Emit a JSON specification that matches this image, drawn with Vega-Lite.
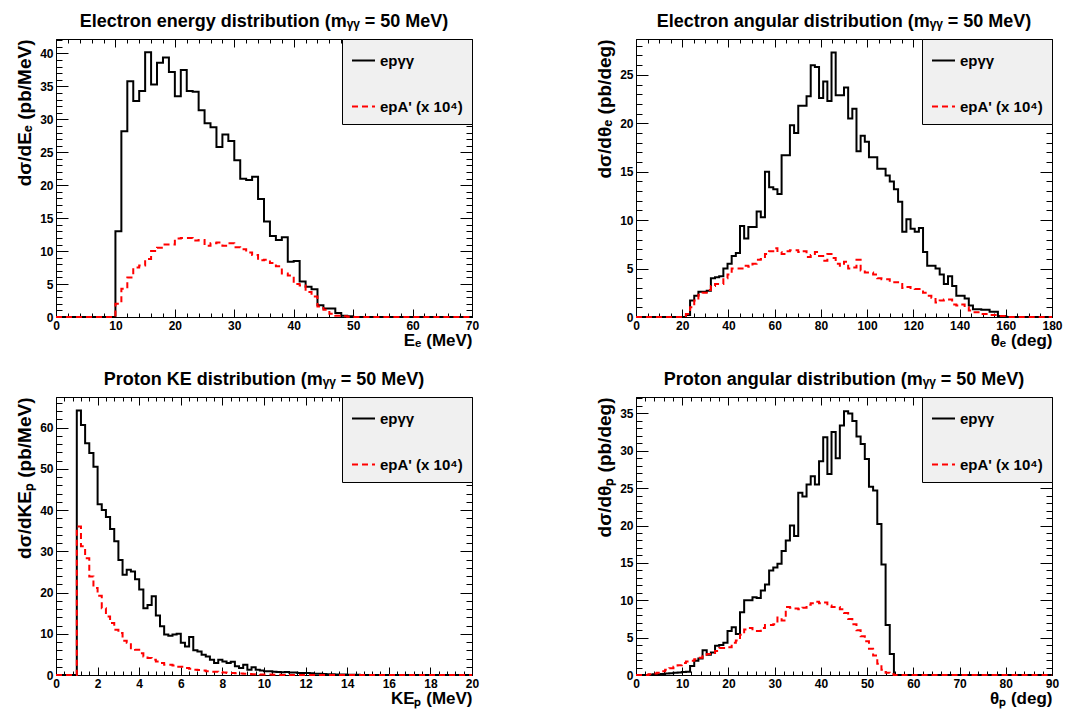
{
  "$schema": "https://vega.github.io/schema/vega-lite/v6.json",
  "background": "white",
  "padding": {"left": 15, "top": 12, "right": 5, "bottom": 5},
  "columns": 2,
  "spacing": {"row": 80, "column": 164},
  "bounds": "flush",
  "resolve": {"scale": {"color": "independent", "strokeDash": "independent"}},
  "concat": [
    {
      "title": "Electron energy distribution (mᵧᵧ = 50 MeV)",
      "width": 416, "height": 278,
      "data": {"values": [
        {"x":0,"g":0,"a":0},{"x":10,"g":13.0,"a":2.0},{"x":11,"g":28.2,"a":4.3},{"x":12,"g":35.8,"a":6.0},{"x":13,"g":32.8,"a":7.5},{"x":14,"g":34.3,"a":7.8},{"x":15,"g":40.2,"a":8.8},{"x":16,"g":35.3,"a":10.0},{"x":17,"g":38.6,"a":10.5},{"x":18,"g":39.4,"a":11.0},{"x":19,"g":37.2,"a":11.0},{"x":20,"g":33.5,"a":11.9},{"x":21,"g":37.5,"a":12.0},{"x":22,"g":34.3,"a":12.0},{"x":23,"g":34.2,"a":11.6},{"x":24,"g":31.4,"a":11.7},{"x":25,"g":29.4,"a":10.8},{"x":26,"g":28.8,"a":11.2},{"x":27,"g":25.8,"a":11.3},{"x":28,"g":27.7,"a":10.8},{"x":29,"g":26.7,"a":11.2},{"x":30,"g":23.8,"a":10.6},{"x":31,"g":21.0,"a":10.3},{"x":32,"g":20.8,"a":9.8},{"x":33,"g":21.3,"a":9.4},{"x":34,"g":17.9,"a":8.6},{"x":35,"g":14.5,"a":8.7},{"x":36,"g":12.3,"a":8.2},{"x":37,"g":11.7,"a":7.7},{"x":38,"g":12.1,"a":6.6},{"x":39,"g":8.4,"a":6.3},{"x":40,"g":8.5,"a":5.0},{"x":41,"g":5.4,"a":4.8},{"x":42,"g":4.6,"a":3.8},{"x":43,"g":4.2,"a":3.1},{"x":44,"g":1.8,"a":1.6},{"x":45,"g":1.3,"a":1.1},{"x":46,"g":1.3,"a":0.5},{"x":47,"g":0.6,"a":0.2},{"x":48,"g":0.2,"a":0.1},{"x":49,"g":0.1,"a":0.05},{"x":50,"g":0,"a":0},{"x":70,"g":0,"a":0}
      ]},
      "resolve": {"scale": {"x": "independent", "y": "independent"}, "axis": {"x": "independent", "y": "independent"}},
      "layer": [
        {
          "transform": [{"fold": ["g", "a"], "as": ["key", "v"]}],
          "mark": {"type": "line", "interpolate": "step-after", "strokeWidth": 2},
          "encoding": {
            "x": {"field": "x", "type": "quantitative", "scale": {"domain": [0, 70], "nice": false, "zero": false}, "axis": {"orient": "bottom", "ticks": false, "values": [0,10,20,30,40,50,60,70], "title": "Eₑ (MeV)"}},
            "y": {"field": "v", "type": "quantitative", "scale": {"domain": [0, 42.2], "nice": false}, "axis": {"orient": "left", "ticks": false, "values": [0,5,10,15,20,25,30,35,40], "title": "dσ/dEₑ (pb/MeV)"}},
            "color": {"field": "key", "type": "nominal", "scale": {"domain": ["g", "a"], "range": ["#000000", "#ff0000"]}, "legend": {"title": null, "labelExpr": "datum.value == 'g' ? 'epγγ' : \"epA' (x 10⁴)\""}},
            "strokeDash": {"field": "key", "type": "nominal", "scale": {"domain": ["g", "a"], "range": [[1, 0], [6, 4]]}, "legend": {"title": null, "labelExpr": "datum.value == 'g' ? 'epγγ' : \"epA' (x 10⁴)\""}}
          }
        },
        {
          "mark": {"type": "line", "strokeOpacity": 0},
          "encoding": {
            "x": {"field": "x", "type": "quantitative", "scale": {"domain": [0, 70], "nice": false, "zero": false}, "axis": {"orient": "bottom", "labels": false, "title": null, "tickSize": -8, "values": [0,10,20,30,40,50,60,70]}},
            "y": {"field": "g", "type": "quantitative", "scale": {"domain": [0, 42.2], "nice": false}, "axis": {"orient": "left", "labels": false, "title": null, "tickSize": -12, "values": [0,5,10,15,20,25,30,35,40]}}
          }
        },
        {
          "mark": {"type": "line", "strokeOpacity": 0},
          "encoding": {
            "x": {"field": "x", "type": "quantitative", "scale": {"domain": [0, 70], "nice": false, "zero": false}, "axis": {"orient": "bottom", "labels": false, "title": null, "tickSize": -4, "values": [0,2,4,6,8,10,12,14,16,18,20,22,24,26,28,30,32,34,36,38,40,42,44,46,48,50,52,54,56,58,60,62,64,66,68,70]}},
            "y": {"field": "g", "type": "quantitative", "scale": {"domain": [0, 42.2], "nice": false}, "axis": {"orient": "left", "labels": false, "title": null, "tickSize": -6, "values": [0,1,2,3,4,5,6,7,8,9,10,11,12,13,14,15,16,17,18,19,20,21,22,23,24,25,26,27,28,29,30,31,32,33,34,35,36,37,38,39,40,41,42]}}
          }
        },
        {
          "mark": {"type": "line", "strokeOpacity": 0},
          "encoding": {
            "x": {"field": "x", "type": "quantitative", "scale": {"domain": [0, 70], "nice": false, "zero": false}, "axis": {"orient": "top", "labels": false, "title": null, "tickSize": -8, "values": [0,10,20,30,40,50,60,70]}},
            "y": {"field": "g", "type": "quantitative", "scale": {"domain": [0, 42.2], "nice": false}, "axis": {"orient": "right", "labels": false, "title": null, "tickSize": -12, "values": [0,5,10,15,20,25,30,35,40]}}
          }
        },
        {
          "mark": {"type": "line", "strokeOpacity": 0},
          "encoding": {
            "x": {"field": "x", "type": "quantitative", "scale": {"domain": [0, 70], "nice": false, "zero": false}, "axis": {"orient": "top", "labels": false, "title": null, "tickSize": -4, "values": [0,2,4,6,8,10,12,14,16,18,20,22,24,26,28,30,32,34,36,38,40,42,44,46,48,50,52,54,56,58,60,62,64,66,68,70]}},
            "y": {"field": "g", "type": "quantitative", "scale": {"domain": [0, 42.2], "nice": false}, "axis": {"orient": "right", "labels": false, "title": null, "tickSize": -6, "values": [0,1,2,3,4,5,6,7,8,9,10,11,12,13,14,15,16,17,18,19,20,21,22,23,24,25,26,27,28,29,30,31,32,33,34,35,36,37,38,39,40,41,42]}}
          }
        }
      ]
    },
    {
      "title": "Electron angular distribution (mᵧᵧ = 50 MeV)",
      "width": 416, "height": 278,
      "data": {"values": [
        {"x":0,"g":0,"a":0},{"x":21.6,"g":0.2,"a":0.3},{"x":23.4,"g":1.7,"a":1.0},{"x":25.2,"g":2.2,"a":1.7},{"x":27,"g":2.6,"a":2.3},{"x":28.8,"g":2.6,"a":2.5},{"x":30.6,"g":2.7,"a":2.8},{"x":32.4,"g":4.0,"a":3.2},{"x":34.2,"g":4.1,"a":3.4},{"x":36,"g":4.2,"a":3.4},{"x":37.8,"g":5.0,"a":4.0},{"x":39.6,"g":5.5,"a":4.4},{"x":41.4,"g":6.3,"a":5.0},{"x":43.2,"g":6.6,"a":5.0},{"x":45,"g":9.4,"a":5.0},{"x":46.8,"g":8.1,"a":5.3},{"x":48.6,"g":9.3,"a":5.2},{"x":50.4,"g":9.3,"a":5.5},{"x":52.2,"g":10.9,"a":5.9},{"x":54,"g":10.3,"a":6.0},{"x":55.8,"g":15.0,"a":6.5},{"x":57.6,"g":13.4,"a":6.8},{"x":59.4,"g":13.2,"a":7.1},{"x":61.2,"g":12.7,"a":6.7},{"x":63,"g":16.7,"a":6.5},{"x":64.8,"g":16.7,"a":6.8},{"x":66.6,"g":19.8,"a":6.9},{"x":68.4,"g":19.0,"a":6.9},{"x":70.2,"g":21.8,"a":6.7},{"x":72,"g":21.8,"a":6.8},{"x":73.8,"g":22.8,"a":6.2},{"x":75.6,"g":26.0,"a":6.4},{"x":77.4,"g":25.8,"a":6.7},{"x":79.2,"g":22.6,"a":6.3},{"x":81,"g":24.3,"a":5.8},{"x":82.8,"g":22.3,"a":6.5},{"x":84.6,"g":27.3,"a":6.1},{"x":86.4,"g":22.9,"a":5.5},{"x":88.2,"g":22.9,"a":5.3},{"x":90,"g":23.7,"a":5.7},{"x":91.8,"g":20.5,"a":5.0},{"x":93.6,"g":21.5,"a":5.1},{"x":95.4,"g":17.1,"a":5.9},{"x":97.2,"g":18.7,"a":4.8},{"x":99,"g":18.1,"a":4.6},{"x":100.8,"g":16.5,"a":4.6},{"x":102.6,"g":16.5,"a":4.4},{"x":104.4,"g":15.3,"a":4.0},{"x":106.2,"g":15.3,"a":3.9},{"x":108,"g":14.6,"a":3.9},{"x":109.8,"g":14.0,"a":3.6},{"x":111.6,"g":13.2,"a":3.6},{"x":113.4,"g":11.9,"a":3.4},{"x":115.2,"g":8.8,"a":3.0},{"x":117,"g":10.1,"a":3.1},{"x":118.8,"g":9.1,"a":3.0},{"x":120.6,"g":8.8,"a":2.9},{"x":122.4,"g":9.2,"a":2.9},{"x":124.2,"g":6.7,"a":2.5},{"x":126,"g":5.3,"a":2.2},{"x":127.8,"g":5.3,"a":2.0},{"x":129.6,"g":5.0,"a":1.5},{"x":131.4,"g":4.4,"a":1.7},{"x":133.2,"g":3.4,"a":1.8},{"x":135,"g":4.2,"a":1.8},{"x":136.8,"g":3.2,"a":1.3},{"x":138.6,"g":2.2,"a":1.2},{"x":140.4,"g":2.2,"a":1.3},{"x":142.2,"g":1.9,"a":1.0},{"x":144,"g":1.2,"a":0.66},{"x":145.8,"g":0.8,"a":0.5},{"x":147.6,"g":0.8,"a":0.5},{"x":149.4,"g":0.75,"a":0.3},{"x":151.2,"g":0.75,"a":0.3},{"x":153,"g":0.55,"a":0.2},{"x":154.8,"g":0.55,"a":0.2},{"x":156.6,"g":0.1,"a":0.1},{"x":158.4,"g":0.1,"a":0.1},{"x":160.2,"g":0,"a":0},{"x":180,"g":0,"a":0}
      ]},
      "resolve": {"scale": {"x": "independent", "y": "independent"}, "axis": {"x": "independent", "y": "independent"}},
      "layer": [
        {
          "transform": [{"fold": ["g", "a"], "as": ["key", "v"]}],
          "mark": {"type": "line", "interpolate": "step-after", "strokeWidth": 2},
          "encoding": {
            "x": {"field": "x", "type": "quantitative", "scale": {"domain": [0, 180], "nice": false, "zero": false}, "axis": {"orient": "bottom", "ticks": false, "values": [0,20,40,60,80,100,120,140,160,180], "title": "θₑ (deg)"}},
            "y": {"field": "v", "type": "quantitative", "scale": {"domain": [0, 28.7], "nice": false}, "axis": {"orient": "left", "ticks": false, "values": [0,5,10,15,20,25], "title": "dσ/dθₑ (pb/deg)"}},
            "color": {"field": "key", "type": "nominal", "scale": {"domain": ["g", "a"], "range": ["#000000", "#ff0000"]}, "legend": {"title": null, "labelExpr": "datum.value == 'g' ? 'epγγ' : \"epA' (x 10⁴)\""}},
            "strokeDash": {"field": "key", "type": "nominal", "scale": {"domain": ["g", "a"], "range": [[1, 0], [6, 4]]}, "legend": {"title": null, "labelExpr": "datum.value == 'g' ? 'epγγ' : \"epA' (x 10⁴)\""}}
          }
        },
        {
          "mark": {"type": "line", "strokeOpacity": 0},
          "encoding": {
            "x": {"field": "x", "type": "quantitative", "scale": {"domain": [0, 180], "nice": false, "zero": false}, "axis": {"orient": "bottom", "labels": false, "title": null, "tickSize": -8, "values": [0,20,40,60,80,100,120,140,160,180]}},
            "y": {"field": "g", "type": "quantitative", "scale": {"domain": [0, 28.7], "nice": false}, "axis": {"orient": "left", "labels": false, "title": null, "tickSize": -12, "values": [0,5,10,15,20,25]}}
          }
        },
        {
          "mark": {"type": "line", "strokeOpacity": 0},
          "encoding": {
            "x": {"field": "x", "type": "quantitative", "scale": {"domain": [0, 180], "nice": false, "zero": false}, "axis": {"orient": "bottom", "labels": false, "title": null, "tickSize": -4, "values": [0,5,10,15,20,25,30,35,40,45,50,55,60,65,70,75,80,85,90,95,100,105,110,115,120,125,130,135,140,145,150,155,160,165,170,175,180]}},
            "y": {"field": "g", "type": "quantitative", "scale": {"domain": [0, 28.7], "nice": false}, "axis": {"orient": "left", "labels": false, "title": null, "tickSize": -6, "values": [0,1,2,3,4,5,6,7,8,9,10,11,12,13,14,15,16,17,18,19,20,21,22,23,24,25,26,27,28]}}
          }
        },
        {
          "mark": {"type": "line", "strokeOpacity": 0},
          "encoding": {
            "x": {"field": "x", "type": "quantitative", "scale": {"domain": [0, 180], "nice": false, "zero": false}, "axis": {"orient": "top", "labels": false, "title": null, "tickSize": -8, "values": [0,20,40,60,80,100,120,140,160,180]}},
            "y": {"field": "g", "type": "quantitative", "scale": {"domain": [0, 28.7], "nice": false}, "axis": {"orient": "right", "labels": false, "title": null, "tickSize": -12, "values": [0,5,10,15,20,25]}}
          }
        },
        {
          "mark": {"type": "line", "strokeOpacity": 0},
          "encoding": {
            "x": {"field": "x", "type": "quantitative", "scale": {"domain": [0, 180], "nice": false, "zero": false}, "axis": {"orient": "top", "labels": false, "title": null, "tickSize": -4, "values": [0,5,10,15,20,25,30,35,40,45,50,55,60,65,70,75,80,85,90,95,100,105,110,115,120,125,130,135,140,145,150,155,160,165,170,175,180]}},
            "y": {"field": "g", "type": "quantitative", "scale": {"domain": [0, 28.7], "nice": false}, "axis": {"orient": "right", "labels": false, "title": null, "tickSize": -6, "values": [0,1,2,3,4,5,6,7,8,9,10,11,12,13,14,15,16,17,18,19,20,21,22,23,24,25,26,27,28]}}
          }
        }
      ]
    },
    {
      "title": "Proton KE distribution (mᵧᵧ = 50 MeV)",
      "width": 416, "height": 278,
      "data": {"values": [
        {"x":0,"g":0,"a":0},{"x":1.0,"g":64.1,"a":36.0},{"x":1.2,"g":60.6,"a":31.2},{"x":1.4,"g":56.2,"a":28.3},{"x":1.6,"g":53.8,"a":23.9},{"x":1.8,"g":50.5,"a":21.1},{"x":2.0,"g":41.4,"a":19.2},{"x":2.2,"g":40.0,"a":16.2},{"x":2.4,"g":38.3,"a":14.2},{"x":2.6,"g":35.4,"a":12.6},{"x":2.8,"g":32.4,"a":11.0},{"x":3.0,"g":27.9,"a":10.2},{"x":3.2,"g":24.3,"a":8.3},{"x":3.4,"g":25.5,"a":7.8},{"x":3.6,"g":25.1,"a":6.5},{"x":3.8,"g":23.2,"a":6.1},{"x":4.0,"g":20.7,"a":5.3},{"x":4.2,"g":16.2,"a":4.5},{"x":4.4,"g":17.0,"a":4.1},{"x":4.6,"g":19.1,"a":3.7},{"x":4.8,"g":14.4,"a":3.3},{"x":5.0,"g":11.8,"a":2.9},{"x":5.2,"g":9.8,"a":2.5},{"x":5.4,"g":9.5,"a":2.5},{"x":5.6,"g":9.8,"a":2.3},{"x":5.8,"g":10.0,"a":2.0},{"x":6.0,"g":7.8,"a":2.0},{"x":6.2,"g":6.9,"a":1.7},{"x":6.4,"g":9.2,"a":1.5},{"x":6.6,"g":6.0,"a":1.3},{"x":6.8,"g":5.7,"a":1.2},{"x":7.0,"g":4.9,"a":1.1},{"x":7.2,"g":4.5,"a":0.9},{"x":7.4,"g":3.7,"a":0.8},{"x":7.6,"g":2.9,"a":0.8},{"x":7.8,"g":3.7,"a":0.7},{"x":8.0,"g":3.3,"a":0.6},{"x":8.2,"g":2.9,"a":0.5},{"x":8.4,"g":3.2,"a":0.5},{"x":8.6,"g":2.1,"a":0.4},{"x":8.8,"g":1.7,"a":0.35},{"x":9.0,"g":2.5,"a":0.3},{"x":9.2,"g":1.3,"a":0.25},{"x":9.4,"g":1.9,"a":0.2},{"x":9.6,"g":1.3,"a":0.2},{"x":9.8,"g":1.1,"a":0.15},{"x":10.0,"g":0.9,"a":0.1},{"x":10.2,"g":0.9,"a":0.1},{"x":10.4,"g":0.8,"a":0.08},{"x":10.6,"g":0.7,"a":0.05},{"x":10.8,"g":0.65,"a":0.03},{"x":11.0,"g":0.7,"a":0},{"x":11.2,"g":0.6,"a":0},{"x":11.4,"g":0.6,"a":0},{"x":11.6,"g":0.5,"a":0},{"x":11.8,"g":0.5,"a":0},{"x":12.0,"g":0.5,"a":0},{"x":12.2,"g":0.4,"a":0},{"x":12.4,"g":0.3,"a":0},{"x":12.6,"g":0.3,"a":0},{"x":12.8,"g":0.25,"a":0},{"x":13.0,"g":0.2,"a":0},{"x":13.2,"g":0.2,"a":0},{"x":13.4,"g":0.15,"a":0},{"x":13.6,"g":0.1,"a":0},{"x":13.8,"g":0.1,"a":0},{"x":14.0,"g":0.08,"a":0},{"x":14.2,"g":0.05,"a":0},{"x":14.4,"g":0.05,"a":0},{"x":14.6,"g":0.03,"a":0},{"x":14.8,"g":0,"a":0},{"x":20,"g":0,"a":0}
      ]},
      "resolve": {"scale": {"x": "independent", "y": "independent"}, "axis": {"x": "independent", "y": "independent"}},
      "layer": [
        {
          "transform": [{"fold": ["g", "a"], "as": ["key", "v"]}],
          "mark": {"type": "line", "interpolate": "step-after", "strokeWidth": 2},
          "encoding": {
            "x": {"field": "x", "type": "quantitative", "scale": {"domain": [0, 20], "nice": false, "zero": false}, "axis": {"orient": "bottom", "ticks": false, "values": [0,2,4,6,8,10,12,14,16,18,20], "title": "KEₚ (MeV)"}},
            "y": {"field": "v", "type": "quantitative", "scale": {"domain": [0, 67.4], "nice": false}, "axis": {"orient": "left", "ticks": false, "values": [0,10,20,30,40,50,60], "title": "dσ/dKEₚ (pb/MeV)"}},
            "color": {"field": "key", "type": "nominal", "scale": {"domain": ["g", "a"], "range": ["#000000", "#ff0000"]}, "legend": {"title": null, "labelExpr": "datum.value == 'g' ? 'epγγ' : \"epA' (x 10⁴)\""}},
            "strokeDash": {"field": "key", "type": "nominal", "scale": {"domain": ["g", "a"], "range": [[1, 0], [6, 4]]}, "legend": {"title": null, "labelExpr": "datum.value == 'g' ? 'epγγ' : \"epA' (x 10⁴)\""}}
          }
        },
        {
          "mark": {"type": "line", "strokeOpacity": 0},
          "encoding": {
            "x": {"field": "x", "type": "quantitative", "scale": {"domain": [0, 20], "nice": false, "zero": false}, "axis": {"orient": "bottom", "labels": false, "title": null, "tickSize": -8, "values": [0,2,4,6,8,10,12,14,16,18,20]}},
            "y": {"field": "g", "type": "quantitative", "scale": {"domain": [0, 67.4], "nice": false}, "axis": {"orient": "left", "labels": false, "title": null, "tickSize": -12, "values": [0,10,20,30,40,50,60]}}
          }
        },
        {
          "mark": {"type": "line", "strokeOpacity": 0},
          "encoding": {
            "x": {"field": "x", "type": "quantitative", "scale": {"domain": [0, 20], "nice": false, "zero": false}, "axis": {"orient": "bottom", "labels": false, "title": null, "tickSize": -4, "values": [0,0.4,0.8,1.2,1.6,2,2.4,2.8,3.2,3.6,4,4.4,4.8,5.2,5.6,6,6.4,6.8,7.2,7.6,8,8.4,8.8,9.2,9.6,10,10.4,10.8,11.2,11.6,12,12.4,12.8,13.2,13.6,14,14.4,14.8,15.2,15.6,16,16.4,16.8,17.2,17.6,18,18.4,18.8,19.2,19.6,20]}},
            "y": {"field": "g", "type": "quantitative", "scale": {"domain": [0, 67.4], "nice": false}, "axis": {"orient": "left", "labels": false, "title": null, "tickSize": -6, "values": [0,2,4,6,8,10,12,14,16,18,20,22,24,26,28,30,32,34,36,38,40,42,44,46,48,50,52,54,56,58,60,62,64,66]}}
          }
        },
        {
          "mark": {"type": "line", "strokeOpacity": 0},
          "encoding": {
            "x": {"field": "x", "type": "quantitative", "scale": {"domain": [0, 20], "nice": false, "zero": false}, "axis": {"orient": "top", "labels": false, "title": null, "tickSize": -8, "values": [0,2,4,6,8,10,12,14,16,18,20]}},
            "y": {"field": "g", "type": "quantitative", "scale": {"domain": [0, 67.4], "nice": false}, "axis": {"orient": "right", "labels": false, "title": null, "tickSize": -12, "values": [0,10,20,30,40,50,60]}}
          }
        },
        {
          "mark": {"type": "line", "strokeOpacity": 0},
          "encoding": {
            "x": {"field": "x", "type": "quantitative", "scale": {"domain": [0, 20], "nice": false, "zero": false}, "axis": {"orient": "top", "labels": false, "title": null, "tickSize": -4, "values": [0,0.4,0.8,1.2,1.6,2,2.4,2.8,3.2,3.6,4,4.4,4.8,5.2,5.6,6,6.4,6.8,7.2,7.6,8,8.4,8.8,9.2,9.6,10,10.4,10.8,11.2,11.6,12,12.4,12.8,13.2,13.6,14,14.4,14.8,15.2,15.6,16,16.4,16.8,17.2,17.6,18,18.4,18.8,19.2,19.6,20]}},
            "y": {"field": "g", "type": "quantitative", "scale": {"domain": [0, 67.4], "nice": false}, "axis": {"orient": "right", "labels": false, "title": null, "tickSize": -6, "values": [0,2,4,6,8,10,12,14,16,18,20,22,24,26,28,30,32,34,36,38,40,42,44,46,48,50,52,54,56,58,60,62,64,66]}}
          }
        }
      ]
    },
    {
      "title": "Proton angular distribution (mᵧᵧ = 50 MeV)",
      "width": 416, "height": 278,
      "data": {"values": [
        {"x":0,"g":0,"a":0},{"x":2.7,"g":0.05,"a":0.1},{"x":3.6,"g":0.1,"a":0.2},{"x":4.5,"g":0.1,"a":0.3},{"x":5.4,"g":0.15,"a":0.5},{"x":6.3,"g":0.2,"a":0.7},{"x":7.2,"g":0.25,"a":0.9},{"x":8.1,"g":0.3,"a":1.1},{"x":9,"g":0.35,"a":1.3},{"x":9.9,"g":0.4,"a":1.6},{"x":10.8,"g":0.45,"a":1.8},{"x":11.7,"g":1.2,"a":1.9},{"x":12.6,"g":1.9,"a":2.1},{"x":13.5,"g":2.2,"a":2.3},{"x":14.4,"g":3.3,"a":2.5},{"x":15.3,"g":2.7,"a":2.8},{"x":16.2,"g":3.0,"a":2.8},{"x":17.1,"g":3.9,"a":3.2},{"x":18,"g":4.0,"a":3.6},{"x":18.9,"g":4.3,"a":3.6},{"x":19.8,"g":5.9,"a":3.7},{"x":20.7,"g":6.4,"a":4.3},{"x":21.6,"g":5.5,"a":4.6},{"x":22.5,"g":8.4,"a":5.4},{"x":23.4,"g":10.0,"a":6.1},{"x":24.3,"g":10.0,"a":6.3},{"x":25.2,"g":10.4,"a":5.9},{"x":26.1,"g":10.3,"a":5.9},{"x":27,"g":11.3,"a":6.3},{"x":27.9,"g":12.1,"a":6.7},{"x":28.8,"g":14.0,"a":6.7},{"x":29.7,"g":14.4,"a":6.8},{"x":30.6,"g":14.9,"a":7.7},{"x":31.5,"g":16.6,"a":7.3},{"x":32.4,"g":18.0,"a":9.1},{"x":33.3,"g":20.0,"a":9.0},{"x":34.2,"g":18.6,"a":8.9},{"x":35.1,"g":24.4,"a":8.8},{"x":36,"g":23.9,"a":9.0},{"x":36.9,"g":25.5,"a":9.4},{"x":37.8,"g":26.6,"a":9.6},{"x":38.7,"g":25.5,"a":9.8},{"x":39.6,"g":28.6,"a":9.6},{"x":40.5,"g":31.8,"a":9.7},{"x":41.4,"g":26.9,"a":9.3},{"x":42.3,"g":32.5,"a":9.1},{"x":43.2,"g":29.0,"a":9.1},{"x":44.1,"g":33.4,"a":8.8},{"x":45,"g":35.3,"a":8.3},{"x":45.9,"g":35.0,"a":7.5},{"x":46.8,"g":34.0,"a":6.8},{"x":47.7,"g":31.9,"a":6.0},{"x":48.6,"g":30.9,"a":5.2},{"x":49.5,"g":28.9,"a":4.5},{"x":50.4,"g":25.2,"a":3.5},{"x":51.3,"g":24.7,"a":2.6},{"x":52.2,"g":20.2,"a":1.5},{"x":53.1,"g":14.8,"a":0.7},{"x":54,"g":6.7,"a":0.3},{"x":54.9,"g":2.8,"a":0.1},{"x":55.8,"g":0,"a":0},{"x":90,"g":0,"a":0}
      ]},
      "resolve": {"scale": {"x": "independent", "y": "independent"}, "axis": {"x": "independent", "y": "independent"}},
      "layer": [
        {
          "transform": [{"fold": ["g", "a"], "as": ["key", "v"]}],
          "mark": {"type": "line", "interpolate": "step-after", "strokeWidth": 2},
          "encoding": {
            "x": {"field": "x", "type": "quantitative", "scale": {"domain": [0, 90], "nice": false, "zero": false}, "axis": {"orient": "bottom", "ticks": false, "values": [0,10,20,30,40,50,60,70,80,90], "title": "θₚ (deg)"}},
            "y": {"field": "v", "type": "quantitative", "scale": {"domain": [0, 37.2], "nice": false}, "axis": {"orient": "left", "ticks": false, "values": [0,5,10,15,20,25,30,35], "title": "dσ/dθₚ (pb/deg)"}},
            "color": {"field": "key", "type": "nominal", "scale": {"domain": ["g", "a"], "range": ["#000000", "#ff0000"]}, "legend": {"title": null, "labelExpr": "datum.value == 'g' ? 'epγγ' : \"epA' (x 10⁴)\""}},
            "strokeDash": {"field": "key", "type": "nominal", "scale": {"domain": ["g", "a"], "range": [[1, 0], [6, 4]]}, "legend": {"title": null, "labelExpr": "datum.value == 'g' ? 'epγγ' : \"epA' (x 10⁴)\""}}
          }
        },
        {
          "mark": {"type": "line", "strokeOpacity": 0},
          "encoding": {
            "x": {"field": "x", "type": "quantitative", "scale": {"domain": [0, 90], "nice": false, "zero": false}, "axis": {"orient": "bottom", "labels": false, "title": null, "tickSize": -8, "values": [0,10,20,30,40,50,60,70,80,90]}},
            "y": {"field": "g", "type": "quantitative", "scale": {"domain": [0, 37.2], "nice": false}, "axis": {"orient": "left", "labels": false, "title": null, "tickSize": -12, "values": [0,5,10,15,20,25,30,35]}}
          }
        },
        {
          "mark": {"type": "line", "strokeOpacity": 0},
          "encoding": {
            "x": {"field": "x", "type": "quantitative", "scale": {"domain": [0, 90], "nice": false, "zero": false}, "axis": {"orient": "bottom", "labels": false, "title": null, "tickSize": -4, "values": [0,2,4,6,8,10,12,14,16,18,20,22,24,26,28,30,32,34,36,38,40,42,44,46,48,50,52,54,56,58,60,62,64,66,68,70,72,74,76,78,80,82,84,86,88,90]}},
            "y": {"field": "g", "type": "quantitative", "scale": {"domain": [0, 37.2], "nice": false}, "axis": {"orient": "left", "labels": false, "title": null, "tickSize": -6, "values": [0,1,2,3,4,5,6,7,8,9,10,11,12,13,14,15,16,17,18,19,20,21,22,23,24,25,26,27,28,29,30,31,32,33,34,35,36,37]}}
          }
        },
        {
          "mark": {"type": "line", "strokeOpacity": 0},
          "encoding": {
            "x": {"field": "x", "type": "quantitative", "scale": {"domain": [0, 90], "nice": false, "zero": false}, "axis": {"orient": "top", "labels": false, "title": null, "tickSize": -8, "values": [0,10,20,30,40,50,60,70,80,90]}},
            "y": {"field": "g", "type": "quantitative", "scale": {"domain": [0, 37.2], "nice": false}, "axis": {"orient": "right", "labels": false, "title": null, "tickSize": -12, "values": [0,5,10,15,20,25,30,35]}}
          }
        },
        {
          "mark": {"type": "line", "strokeOpacity": 0},
          "encoding": {
            "x": {"field": "x", "type": "quantitative", "scale": {"domain": [0, 90], "nice": false, "zero": false}, "axis": {"orient": "top", "labels": false, "title": null, "tickSize": -4, "values": [0,2,4,6,8,10,12,14,16,18,20,22,24,26,28,30,32,34,36,38,40,42,44,46,48,50,52,54,56,58,60,62,64,66,68,70,72,74,76,78,80,82,84,86,88,90]}},
            "y": {"field": "g", "type": "quantitative", "scale": {"domain": [0, 37.2], "nice": false}, "axis": {"orient": "right", "labels": false, "title": null, "tickSize": -6, "values": [0,1,2,3,4,5,6,7,8,9,10,11,12,13,14,15,16,17,18,19,20,21,22,23,24,25,26,27,28,29,30,31,32,33,34,35,36,37]}}
          }
        }
      ]
    }
  ],
  "config": {
    "font": "Liberation Sans",
    "view": {"stroke": "#000000", "strokeWidth": 1},
    "title": {"font": "Liberation Sans", "fontSize": 18, "fontWeight": "bold", "color": "#000000", "anchor": "middle", "offset": 8},
    "axis": {"domain": false, "grid": false, "labelFont": "Liberation Sans", "labelFontSize": 12, "labelFontWeight": "bold", "labelColor": "#000000", "labelPadding": 3, "labelFlush": false, "labelOverlap": false, "titleFont": "Liberation Sans", "titleFontSize": 17, "titleFontWeight": "bold", "titleColor": "#000000", "titleAnchor": "end", "tickColor": "#000000", "tickWidth": 1},
    "axisX": {"titlePadding": 1},
    "axisY": {"titlePadding": 5, "titleFontSize": 19},
    "legend": {"orient": "top-right", "offset": 0, "padding": 9, "fillColor": "#f0f0f0", "strokeColor": "#000000", "labelFont": "Liberation Sans", "labelFontSize": 15, "labelFontWeight": "bold", "labelColor": "#000000", "symbolType": "stroke", "symbolSize": 529, "symbolStrokeWidth": 2, "rowPadding": 25, "labelOffset": 4}
  }
}
